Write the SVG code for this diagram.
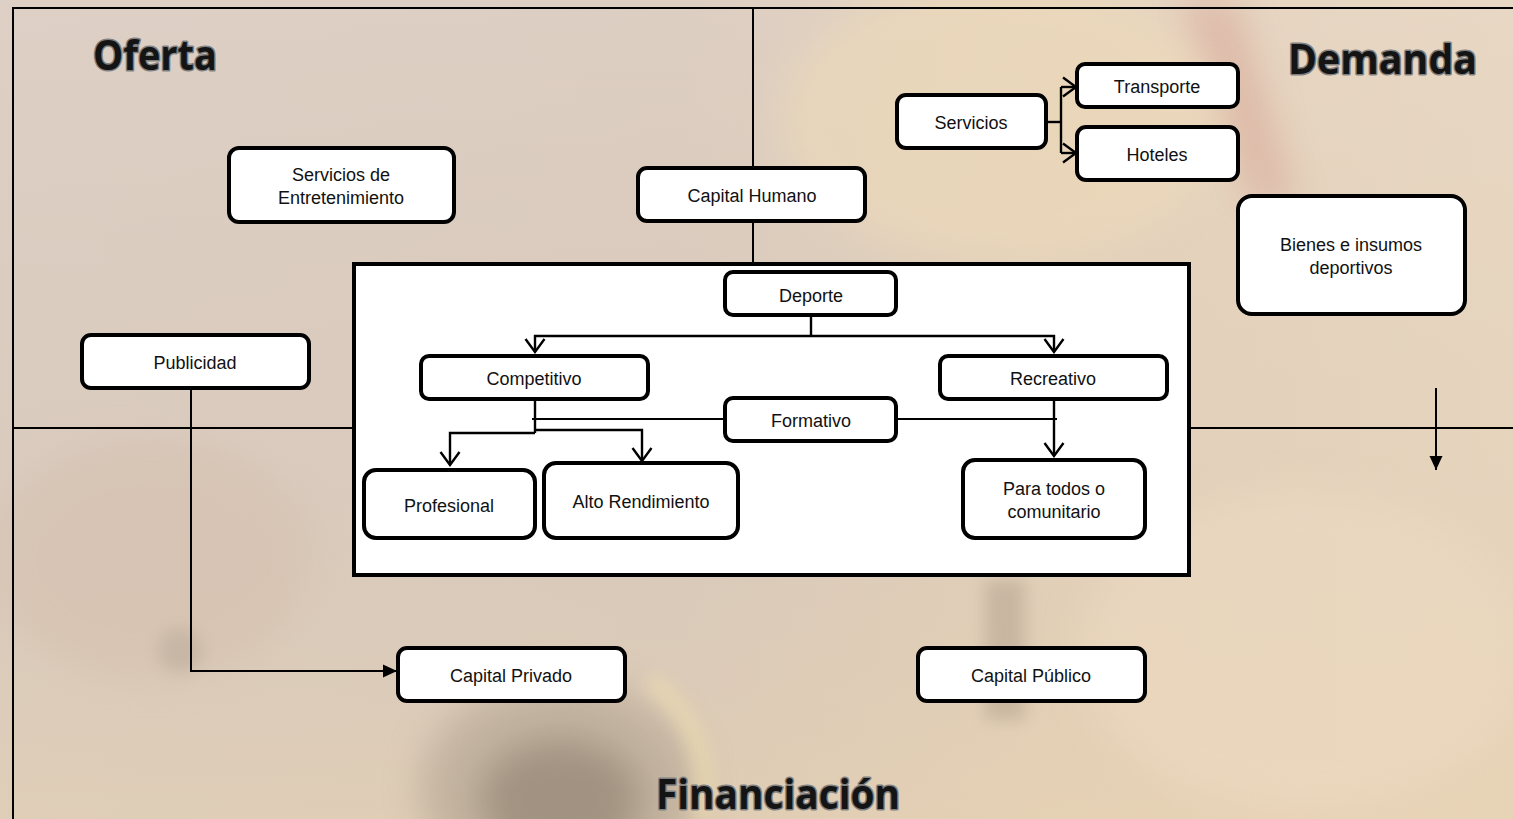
<svg xmlns="http://www.w3.org/2000/svg" width="1513" height="819" viewBox="0 0 1513 819">
<defs>
<style>
.node rect{fill:#fff;stroke:#000;stroke-width:4}
.node text,.lbl{font-family:"Liberation Sans",Arial,sans-serif;font-size:18px;fill:#111;text-anchor:middle}
.title{font-family:"Open Sans","Liberation Sans",sans-serif;font-weight:700;font-size:41px;fill:#141414;stroke:#808080;stroke-width:3;paint-order:stroke;stroke-linejoin:round}
.frame{stroke:#000;stroke-width:2;fill:none}
.conn{stroke:#000;stroke-width:2.4;fill:none}
.thin{stroke:#000;stroke-width:1.8;fill:none}
</style>
<linearGradient id="bg" x1="0" y1="0" x2="1" y2="0">
<stop offset="0" stop-color="#dacdc4"/>
<stop offset="0.45" stop-color="#d9cbc0"/>
<stop offset="0.7" stop-color="#e4d2bd"/>
<stop offset="1" stop-color="#e9d8c2"/>
</linearGradient>
<linearGradient id="bg2" x1="0" y1="0" x2="0" y2="1">
<stop offset="0" stop-color="#e6d6c8" stop-opacity="0.3"/>
<stop offset="0.6" stop-color="#d8c3a8" stop-opacity="0.2"/>
<stop offset="1" stop-color="#e6cfa8" stop-opacity="0.45"/>
</linearGradient>
<filter id="blur" x="-50%" y="-50%" width="200%" height="200%"><feGaussianBlur stdDeviation="18"/></filter>
<filter id="blur2" x="-50%" y="-50%" width="200%" height="200%"><feGaussianBlur stdDeviation="8"/></filter>
<marker id="open" viewBox="-15 -12 17 24" refX="0" refY="0" markerWidth="17" markerHeight="24" markerUnits="userSpaceOnUse" orient="auto">
<path d="M-13,-9.5 L0,0 L-13,9.5" fill="none" stroke="#000" stroke-width="2.4"/>
</marker>
<marker id="solid" viewBox="-15 -8 16 16" refX="0" refY="0" markerWidth="16" markerHeight="16" markerUnits="userSpaceOnUse" orient="auto">
<path d="M-14,-6.5 L0,0 L-14,6.5 Z" fill="#000"/>
</marker>
</defs>

<g id="background">
<rect x="0" y="0" width="1513" height="819" fill="url(#bg)"/>
<rect x="0" y="0" width="1513" height="819" fill="url(#bg2)"/>
<path d="M1180,0 L1235,0 L1295,200 L1255,210 Z" fill="#c8746a" opacity="0.28" filter="url(#blur)"/>
<ellipse cx="1000" cy="120" rx="220" ry="140" fill="#f0dcb8" opacity="0.5" filter="url(#blur)"/>
<ellipse cx="1300" cy="650" rx="220" ry="160" fill="#efdcc4" opacity="0.5" filter="url(#blur)"/>
<ellipse cx="560" cy="790" rx="140" ry="110" fill="#a89a88" opacity="0.5" filter="url(#blur)"/>
<ellipse cx="560" cy="800" rx="80" ry="60" fill="#6f6357" opacity="0.4" filter="url(#blur)"/>
<path d="M650,680 Q720,740 700,819" stroke="#f3e2b0" stroke-width="20" fill="none" opacity="0.5" filter="url(#blur2)"/>
<rect x="985" y="580" width="40" height="140" fill="#8f8070" opacity="0.3" filter="url(#blur2)"/>
<circle cx="180" cy="650" r="22" fill="#a4998c" opacity="0.45" filter="url(#blur2)"/>
<ellipse cx="150" cy="560" rx="160" ry="120" fill="#d2b9a6" opacity="0.35" filter="url(#blur)"/>
</g>

<g id="frame">
<path class="frame" d="M1513,8 L13,8 L13,819"/>
<line class="frame" x1="753" y1="8" x2="753" y2="263"/>
<line class="frame" x1="13" y1="428" x2="353" y2="428"/>
<line class="frame" x1="1190" y1="428" x2="1513" y2="428"/>
</g>

<g id="titles">
<text class="title" x="93" y="70" textLength="124" lengthAdjust="spacingAndGlyphs">Oferta</text>
<text class="title" x="1288" y="74" textLength="189" lengthAdjust="spacingAndGlyphs">Demanda</text>
<text class="title" x="656" y="809" textLength="244" lengthAdjust="spacingAndGlyphs">Financiación</text>
</g>

<g id="main-box">
<rect x="354" y="264" width="835" height="311" fill="#fff" stroke="#000" stroke-width="4"/>
</g>

<g id="connectors">
<path class="conn" d="M811,315 L811,336"/>
<path class="conn" d="M811,336 L535,336 L535,352" marker-end="url(#open)"/>
<path class="conn" d="M811,336 L1054,336 L1054,352" marker-end="url(#open)"/>
<path class="conn" d="M535,399 L535,433"/>
<path class="conn" d="M535,433 L450,433 L450,465" marker-end="url(#open)"/>
<path class="conn" d="M535,430 L642,430 L642,461" marker-end="url(#open)"/>
<path class="thin" d="M532,419 L725,419"/>
<path class="thin" d="M896,419 L1057,419"/>
<path class="conn" d="M1054,399 L1054,456" marker-end="url(#open)"/>
<path class="conn" d="M1046,122 L1061,122"/>
<path class="conn" d="M1061,87 L1061,153"/>
<path class="conn" d="M1061,87 L1076,87" marker-end="url(#open)"/>
<path class="conn" d="M1061,153 L1076,153" marker-end="url(#open)"/>
<path class="frame" d="M191,388 L191,671 L397,671" marker-end="url(#solid)"/>
<path class="frame" d="M1436,388 L1436,470" marker-end="url(#solid)"/>
</g>

<g id="n-entretenimiento" class="node"><rect x="229" y="148" width="225" height="74" rx="10"/><text x="341" y="181">Servicios de</text><text x="341" y="204">Entretenimiento</text></g>
<g id="n-capital-humano" class="node"><rect x="638" y="168" width="227" height="53" rx="9"/><text x="752" y="202">Capital Humano</text></g>
<g id="n-servicios" class="node"><rect x="897" y="95" width="149" height="53" rx="9"/><text x="971" y="129">Servicios</text></g>
<g id="n-transporte" class="node"><rect x="1077" y="64" width="161" height="43" rx="8"/><text x="1157" y="93">Transporte</text></g>
<g id="n-hoteles" class="node"><rect x="1077" y="127" width="161" height="53" rx="9"/><text x="1157" y="161">Hoteles</text></g>
<g id="n-bienes" class="node"><rect x="1238" y="196" width="227" height="118" rx="14"/><text x="1351" y="251">Bienes e insumos</text><text x="1351" y="274">deportivos</text></g>
<g id="n-publicidad" class="node"><rect x="82" y="335" width="227" height="53" rx="9"/><text x="195" y="369">Publicidad</text></g>
<g id="n-deporte" class="node"><rect x="725" y="272" width="171" height="43" rx="8"/><text x="811" y="302">Deporte</text></g>
<g id="n-competitivo" class="node"><rect x="421" y="356" width="227" height="43" rx="8"/><text x="534" y="385">Competitivo</text></g>
<g id="n-recreativo" class="node"><rect x="940" y="356" width="227" height="43" rx="8"/><text x="1053" y="385">Recreativo</text></g>
<g id="n-formativo" class="node"><rect x="725" y="398" width="171" height="43" rx="8"/><text x="811" y="427">Formativo</text></g>
<g id="n-profesional" class="node"><rect x="364" y="470" width="171" height="68" rx="12"/><text x="449" y="512">Profesional</text></g>
<g id="n-alto-rendimiento" class="node"><rect x="544" y="463" width="194" height="75" rx="12"/><text x="641" y="508">Alto Rendimiento</text></g>
<g id="n-para-todos" class="node"><rect x="963" y="460" width="182" height="78" rx="12"/><text x="1054" y="495">Para todos o</text><text x="1054" y="518">comunitario</text></g>
<g id="n-capital-privado" class="node"><rect x="398" y="648" width="227" height="53" rx="9"/><text x="511" y="682">Capital Privado</text></g>
<g id="n-capital-publico" class="node"><rect x="918" y="648" width="227" height="53" rx="9"/><text x="1031" y="682">Capital Público</text></g>
</svg>
